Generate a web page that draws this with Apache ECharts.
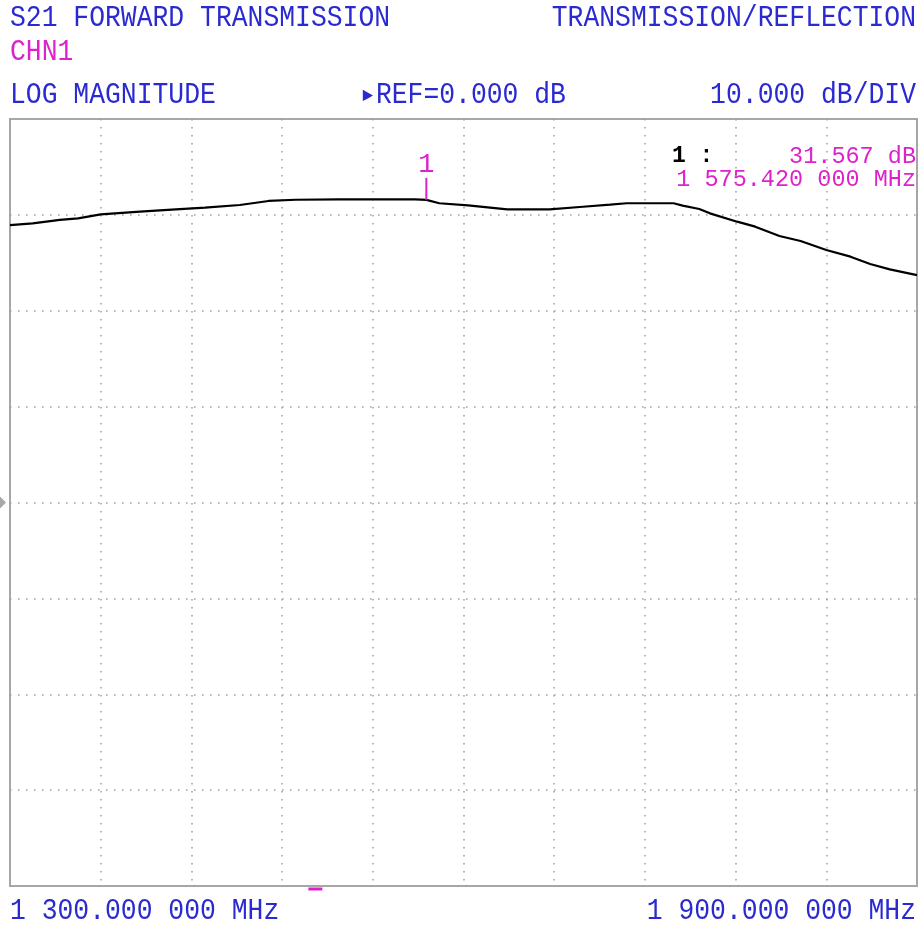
<!DOCTYPE html>
<html>
<head>
<meta charset="utf-8">
<script src="https://cdn.jsdelivr.net/npm/echarts@6/dist/echarts.min.js"></script>
<style>
html,body{margin:0;padding:0;background:#fff;}
#c{width:920px;height:926px;}
</style>
</head>
<body>
<div id="c"></div>
<script>
// Data
const freqMHz = [1300, 1315, 1333, 1345, 1360, 1386, 1407, 1429, 1452, 1471, 1489, 1518, 1545, 1568, 1575.42, 1584, 1603, 1629, 1657, 1679, 1697, 1708, 1739, 1745, 1756, 1763, 1781, 1793, 1809, 1823, 1840, 1856, 1869, 1882, 1900];
const s21dB = [28.94, 29.12, 29.47, 29.64, 30.06, 30.33, 30.54, 30.75, 31.03, 31.45, 31.58, 31.62, 31.62, 31.62, 31.567, 31.21, 31.0, 30.58, 30.58, 30.85, 31.06, 31.21, 31.21, 30.96, 30.61, 30.16, 29.29, 28.77, 27.80, 27.27, 26.33, 25.64, 24.88, 24.32, 23.72];
const xRange = [1300, 1900];
const yRange = [-40, 40];
const marker = { freq: 1575.42, value: 31.567, label: '1' };
const refLevel = 0;
const extraTickFreq = 1502;

const BLUE = '#2a2ad0';
const MAG = '#dd22cc';
const FONT = '"Liberation Mono", "DejaVu Sans Mono", monospace';

const chart = echarts.init(document.getElementById('c'));
const pts = freqMHz.map((f, i) => [f, s21dB[i]]);

function txt(x, y, text, opts, sy) {
  return {
    type: 'text', x: x, y: y, scaleY: sy || 1.1,
    style: Object.assign({ text: text, font: '26.4px ' + FONT, fill: BLUE, textVerticalAlign: 'middle' }, opts || {})
  };
}

chart.setOption({
  backgroundColor: '#fff',
  animation: false,
  grid: { left: 10, top: 119, right: 3, bottom: 40, show: true, borderColor: '#a8a8a8', borderWidth: 2, backgroundColor: '#fff' },
  xAxis: {
    type: 'value', min: xRange[0], max: xRange[1], interval: 60,
    axisLine: { show: false }, axisTick: { show: false }, axisLabel: { show: false },
    splitLine: { show: true, lineStyle: { color: '#a0a0a0', width: 1.5, type: [1.5, 6.5] } }
  },
  yAxis: {
    type: 'value', min: yRange[0], max: yRange[1], interval: 10,
    axisLine: { show: false }, axisTick: { show: false }, axisLabel: { show: false },
    splitLine: { show: true, lineStyle: { color: '#a0a0a0', width: 1.5, type: [1.5, 6.5] } }
  },
  series: [{
    type: 'line',
    data: pts,
    showSymbol: false,
    clip: false,
    lineStyle: { color: '#000', width: 2.2 },
    markPoint: {
      silent: true,
      data: [
        {
          coord: [marker.freq, marker.value],
          symbol: 'rect', symbolSize: [2, 22], symbolOffset: [0, -11],
          itemStyle: { color: MAG },
          label: { show: true, formatter: marker.label, position: 'top', distance: 0, color: MAG, fontSize: 27, fontFamily: FONT }
        },
        {
          coord: [xRange[0], refLevel],
          symbol: 'path://M0,0L1,0.5L0,1Z', symbolKeepAspect: false, symbolSize: [6, 12], symbolOffset: [-7, 0],
          itemStyle: { color: '#a8a8a8' }, label: { show: false }
        },
        {
          coord: [extraTickFreq, yRange[0]],
          symbol: 'rect', symbolSize: [14, 3], symbolOffset: [0, 3],
          itemStyle: { color: MAG }, label: { show: false }
        }
      ]
    }
  }],
  graphic: [
    txt(10, 18, 'S21 FORWARD TRANSMISSION'),
    txt(916, 18, 'TRANSMISSION/REFLECTION', { textAlign: 'right' }),
    txt(10, 52, 'CHN1', { fill: MAG }),
    txt(10, 95, 'LOG MAGNITUDE'),
    txt(360, 95, '\u25B8REF=0.000 dB'),
    txt(916, 95, '10.000 dB/DIV', { textAlign: 'right' }),
    txt(10, 911, '1 300.000 000 MHz'),
    txt(916, 911, '1 900.000 000 MHz', { textAlign: 'right' }),
    txt(672, 156, '1 :', { fill: '#000', font: 'bold 23px ' + FONT }, 1.05),
    txt(916, 156, '31.567 dB', { fill: MAG, font: '23.5px ' + FONT, textAlign: 'right' }, 1.05),
    txt(916, 179, '1 575.420 000 MHz', { fill: MAG, font: '23.5px ' + FONT, textAlign: 'right' }, 1.05)
  ]
});
</script>
</body>
</html>
